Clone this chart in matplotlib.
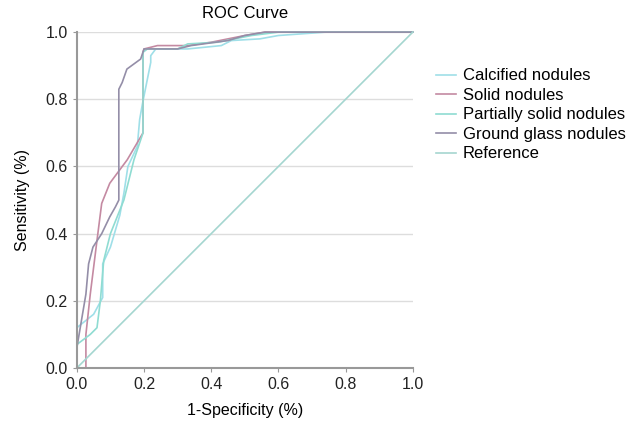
import numpy as np
import matplotlib
matplotlib.use("Agg")
import matplotlib.pyplot as plt

plt.rcParams['font.family'] = ['Liberation Sans', 'DejaVu Sans']

# ROC points (1-specificity, sensitivity)
calc_x = [0.0, 0.0, 0.05, 0.077, 0.077, 0.10, 0.128, 0.14, 0.152, 0.18, 0.187,
          0.196, 0.22, 0.22, 0.235, 0.33, 0.43, 0.46, 0.545, 0.60, 0.74, 1.0]
calc_y = [0.0, 0.12, 0.16, 0.21, 0.31, 0.36, 0.455, 0.52, 0.60, 0.66, 0.74,
          0.79, 0.91, 0.93, 0.95, 0.95, 0.96, 0.975, 0.98, 0.99, 1.0, 1.0]

solid_x = [0.0, 0.027, 0.027, 0.04, 0.06, 0.074, 0.098, 0.15, 0.197, 0.197,
           0.20, 0.24, 0.33, 0.40, 0.45, 0.50, 0.56, 0.60, 1.0]
solid_y = [0.0, 0.0, 0.10, 0.22, 0.38, 0.49, 0.55, 0.62, 0.70, 0.94,
           0.95, 0.96, 0.96, 0.97, 0.98, 0.99, 1.0, 1.0, 1.0]

part_x = [0.0, 0.0, 0.04, 0.06, 0.07, 0.08, 0.10, 0.14, 0.17, 0.197, 0.197,
          0.21, 0.30, 0.33, 0.42, 0.47, 0.52, 0.60, 1.0]
part_y = [0.0, 0.07, 0.10, 0.12, 0.20, 0.32, 0.40, 0.50, 0.62, 0.70, 0.94,
          0.95, 0.95, 0.965, 0.97, 0.98, 0.99, 1.0, 1.0]

glass_x = [0.0, 0.0, 0.027, 0.035, 0.048, 0.074, 0.098, 0.115, 0.125, 0.125,
           0.135, 0.149, 0.19, 0.20, 0.30, 0.34, 0.45, 0.50, 0.56, 1.0]
glass_y = [0.0, 0.06, 0.22, 0.31, 0.36, 0.40, 0.45, 0.48, 0.50, 0.83,
           0.85, 0.89, 0.92, 0.95, 0.95, 0.96, 0.975, 0.99, 1.0, 1.0]

ref_x = [0.0, 1.0]
ref_y = [0.0, 1.0]

labels = ["Calcified nodules", "Solid nodules", "Partially solid nodules",
          "Ground glass nodules", "Reference"]
colors = ["#9fdfe8", "#c48aa2", "#8fdcd2", "#948ea8", "#a5d6d0"]
ticks = [0.0, 0.2, 0.4, 0.6, 0.8, 1.0]

fig = plt.figure(figsize=(6.35, 4.23), dpi=100)
ax = fig.add_axes([0.121, 0.130, 0.529, 0.794])

series = [(calc_x, calc_y), (solid_x, solid_y), (part_x, part_y),
          (glass_x, glass_y), (ref_x, ref_y)]
for (xs, ys), lab, col in zip(series, labels, colors):
    ax.plot(xs, ys, color=col, linewidth=1.2, label=lab, clip_on=False)

ax.set_xlim(0, 1)
ax.set_ylim(0, 1)
ax.set_xticks(ticks)
ax.set_yticks(ticks)
ax.set_xticklabels([f"{t:.1f}" for t in ticks])
ax.set_yticklabels([f"{t:.1f}" for t in ticks])
ax.yaxis.grid(True, color="#dddddd", linewidth=1)
ax.set_axisbelow(True)

for s in ("top", "right"):
    ax.spines[s].set_visible(False)
for s in ("left", "bottom"):
    ax.spines[s].set_color("#999999")
    ax.spines[s].set_linewidth(1.5)
ax.tick_params(colors="#999999", length=3, labelcolor="#222222", labelsize=11.5)

ax.set_title("ROC Curve", fontsize=12, pad=10)
ax.set_xlabel("1-Specificity (%)", fontsize=11.5, labelpad=8)
ax.set_ylabel("Sensitivity (%)", fontsize=11.5, labelpad=11)

ax.legend(loc="upper left", bbox_to_anchor=(1.05, 0.912), frameon=False,
          fontsize=12, handlelength=1.2, handletextpad=0.4,
          labelspacing=0.27, borderaxespad=0)

fig.savefig("out.png", dpi=100)
